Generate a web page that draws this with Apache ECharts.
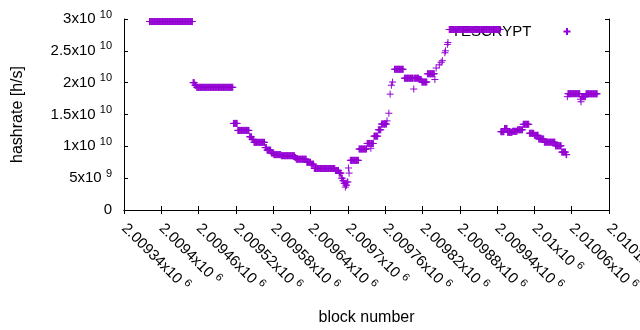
<!DOCTYPE html>
<html><head><meta charset="utf-8">
<script src="https://cdn.jsdelivr.net/npm/echarts@6/dist/echarts.min.js"></script>
<style>html,body{margin:0;padding:0;background:#fff}#c{width:640px;height:330px}</style>
</head><body><div id="c"></div>
<script>
// ---- data ----
const seriesName = 'YESCRYPT';
const xTickMain = ['2.00934x10','2.0094x10','2.00946x10','2.00952x10','2.00958x10','2.00964x10','2.0097x10',
  '2.00976x10','2.00982x10','2.00988x10','2.00994x10','2.01x10','2.01006x10','2.01012x10'];
const xTickExp = '6';
const yTickMain = ['0','5x10','1x10','1.5x10','2x10','2.5x10','3x10'];
const yTickExp = ['','9','10','10','10','10','10'];
// runs of constant hashrate: first block, last block, value [h/s]
const runStart = [2009381,2009451,2009454,2009457,2009516,2009523,2009542,2009546,2009549,2009567,
  2009570,2009577,2009581,2009593,2009615,2009617,2009634,2009641,2009646,2009680,
  2009686,2009690,2009692,2009694,2009696,2009697,2009699,2009701,2009702,2009704,
  2009718,2009731,2009737,2009738,2009742,2009749,2009754,2009763,2009766,2009768,
  2009770,2009772,2009775,2009791,2009806,2009807,2009815,2009819,2009828,2009840,
  2009842,2009847,2009850,2009852,2009856,2009857,2009860,2009861,2009863,2009946,
  2009952,2009957,2009965,2009973,2009982,2009992,2010000,2010007,2010016,2010034,
  2010044,2010051,2010053,2010054,2010074,2010075,2010076,2010083];
const runEnd = [2009450,2009453,2009456,2009515,2009522,2009541,2009545,2009548,2009566,2009569,
  2009576,2009580,2009592,2009614,2009616,2009633,2009640,2009645,2009679,2009685,
  2009689,2009691,2009693,2009695,2009696,2009698,2009700,2009701,2009702,2009717,
  2009730,2009736,2009737,2009741,2009748,2009753,2009762,2009763,2009766,2009768,
  2009770,2009772,2009789,2009805,2009806,2009814,2009818,2009827,2009839,2009840,
  2009842,2009847,2009850,2009852,2009856,2009857,2009860,2009861,2009945,2009951,
  2009956,2009964,2009972,2009981,2009991,2009999,2010006,2010015,2010033,2010043,
  2010050,2010052,2010053,2010073,2010074,2010075,2010082,2010101];
const runValue = [29.6e9,20.0e9,19.6e9,19.27e9,13.6e9,12.5e9,11.5e9,11.1e9,10.63e9,9.8e9,
  9.4e9,8.95e9,8.7e9,8.53e9,8.25e9,7.98e9,7.49e9,7.2e9,6.52e9,6.2e9,
  5.8e9,5.0e9,4.6e9,4.2e9,3.6e9,3.9e9,4.4e9,6.6e9,5.8e9,7.8e9,
  9.58e9,10.45e9,9.7e9,10.45e9,11.6e9,12.6e9,13.5e9,14.0e9,15.2e9,18.2e9,
  19.6e9,20.1e9,22.1e9,20.7e9,19.0e9,20.7e9,20.5e9,20.1e9,21.4e9,20.5e9,
  22.3e9,22.8e9,23.2e9,23.45e9,24.7e9,25.0e9,26.0e9,26.3e9,28.35e9,12.3e9,
  12.8e9,12.2e9,12.36e9,12.6e9,13.46e9,12.05e9,11.73e9,11.15e9,10.65e9,10.08e9,
  9.1e9,8.7e9,17.8e9,18.27e9,17.4e9,17.0e9,17.8e9,18.25e9];

// ---- build points: one per block inside each run ----
const points = [];
for (let r = 0; r < runStart.length; r++) {
  for (let b = runStart[r]; b <= runEnd[r]; b++) points.push([b, runValue[r]]);
}

const FONT = 'Liberation Sans';
const xMin = 2009340, xMax = 2010120, xStep = 60;
const rich = {
  m: {fontSize: 15, fontFamily: FONT, color: '#000', lineHeight: 20},
  s: {fontSize: 11, fontFamily: FONT, color: '#000', lineHeight: 11, verticalAlign: 'top'}
};
const axisLineStyle = {show: true, lineStyle: {color: '#000', width: 1}};
const tickStyle = {show: true, inside: true, length: 4, lineStyle: {color: '#000', width: 1}};
const purple = '#9400d3';

const chart = echarts.init(document.getElementById('c'), null, {renderer: 'canvas'});
chart.setOption({
  animation: false,
  backgroundColor: '#fff',
  grid: {left: 124, right: 31, top: 19, bottom: 120, containLabel: false, outerBoundsMode: 'none'},
  legend: {
    data: [seriesName], right: 62, top: 19, align: 'right', z: 1,
    itemWidth: 7, itemHeight: 7, selectedMode: false,
    textStyle: {fontSize: 15, fontFamily: FONT, color: '#000', padding: [0, 27, 0, 0]}
  },
  xAxis: [{
    type: 'value', min: xMin, max: xMax, interval: xStep, position: 'bottom',
    name: 'block number', nameLocation: 'middle', nameGap: 100,
    nameTextStyle: {fontSize: 16, fontFamily: FONT, color: '#000'},
    axisLine: axisLineStyle, axisTick: tickStyle, splitLine: {show: false},
    axisLabel: {
      rotate: -45, margin: 16, showMaxLabel: true, showMinLabel: true,
      formatter: function (v) {
        const i = Math.round((v - xMin) / xStep);
        return '{m|' + xTickMain[i] + ' }{s|' + xTickExp + '}';
      },
      rich: rich
    }
  }, {
    type: 'value', min: xMin, max: xMax, interval: xStep, position: 'top',
    axisLine: axisLineStyle, axisTick: tickStyle, splitLine: {show: false}, axisLabel: {show: false}
  }],
  yAxis: [{
    type: 'value', min: 0, max: 3e10, interval: 5e9, position: 'left',
    name: 'hashrate [h/s]', nameLocation: 'middle', nameGap: 98,
    nameTextStyle: {fontSize: 16, fontFamily: FONT, color: '#000'},
    axisLine: axisLineStyle, axisTick: tickStyle, splitLine: {show: false},
    axisLabel: {
      margin: 12,
      formatter: function (v) {
        const i = Math.round(v / 5e9);
        if (yTickExp[i] === '') return '{m|' + yTickMain[i] + '}';
        return '{m|' + yTickMain[i] + ' }{s|' + yTickExp[i] + '}';
      },
      rich: rich
    }
  }, {
    type: 'value', min: 0, max: 3e10, interval: 5e9, position: 'right',
    axisLine: axisLineStyle, axisTick: tickStyle, splitLine: {show: false}, axisLabel: {show: false}
  }],
  series: [{
    name: seriesName, type: 'scatter', xAxisIndex: 0, yAxisIndex: 0, z: 2,
    symbol: 'path://M0,-3.5L0,3.5M-3.5,0L3.5,0', symbolSize: 7,
    itemStyle: {color: 'none', borderColor: purple, borderWidth: 1, opacity: 1},
    emphasis: {disabled: true},
    large: false,
    data: points
  }]
});
</script>
</body></html>
